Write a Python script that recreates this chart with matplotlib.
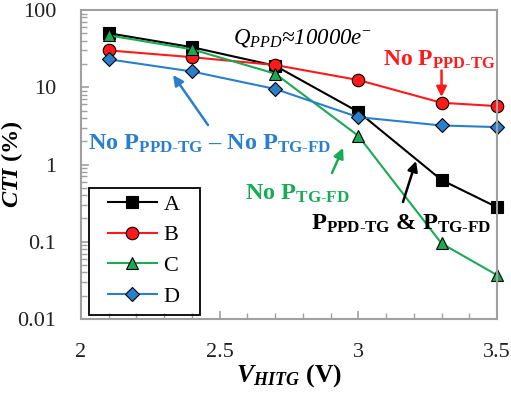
import matplotlib
matplotlib.use('Agg')
import matplotlib.pyplot as plt
from matplotlib.patches import Rectangle
from matplotlib.ticker import FixedLocator, LogLocator, NullFormatter, MultipleLocator

plt.rcParams['font.family'] = ['Liberation Serif', 'DejaVu Serif']
plt.rcParams['mathtext.fontset'] = 'custom'
plt.rcParams['mathtext.rm'] = 'Liberation Serif'
plt.rcParams['mathtext.it'] = 'Liberation Serif:italic'
plt.rcParams['mathtext.bf'] = 'Liberation Serif:bold'
plt.rcParams['mathtext.bfit'] = 'Liberation Serif:italic:bold'

v_hitg = [2.1, 2.4, 2.7, 3.0, 3.3, 3.5]
cti_a = [50, 33, 19, 4.8, 0.63, 0.28]
cti_b = [30, 24.5, 19.4, 12.4, 6.3, 5.7]
cti_c = [47, 31, 15, 2.35, 0.095, 0.037]
cti_d = [23, 16, 9.5, 4.1, 3.2, 3.05]
series_names = ['A', 'B', 'C', 'D']
x_ticks = [2, 2.5, 3, 3.5]
y_ticks = [0.01, 0.1, 1, 10, 100]
y_tick_labels = ['0.01', '0.1', '1', '10', '100']

fig = plt.figure(figsize=(5.11, 3.95), dpi=100)
ax = fig.add_axes([81 / 511, 1 - 319 / 395, 416 / 511, 309 / 395])

styles = [('black', 's'), ('#ff1a1a', 'o'), ('#1aaa55', '^'), ('#2a7fcc', 'D')]
for vals, name, (col, mk) in zip([cti_a, cti_b, cti_c, cti_d], series_names, styles):
    ms = 9 if mk != 'D' else 7
    ax.plot(v_hitg, vals, color=col, marker=mk, markersize=ms, markerfacecolor=col,
            markeredgecolor='black', markeredgewidth=0.8, linewidth=1.5, label=name, clip_on=False)

ax.set_yscale('log')
ax.set_xlim(2, 3.5)
ax.set_ylim(0.01, 100)
ax.xaxis.set_major_locator(FixedLocator(x_ticks))
ax.xaxis.set_minor_locator(MultipleLocator(0.1))
ax.set_xticklabels(['2', '2.5', '3', '3.5'])
ax.yaxis.set_major_locator(FixedLocator(y_ticks))
ax.set_yticklabels(y_tick_labels)
ax.yaxis.set_minor_locator(LogLocator(base=10, subs=range(2, 10)))
ax.yaxis.set_minor_formatter(NullFormatter())

for s in ax.spines.values():
    s.set_color('#a0a0a0')
    s.set_linewidth(1.5)
ax.tick_params(which='both', direction='in', color='#a0a0a0', labelsize=16, labelcolor='#222222')
ax.tick_params(which='major', length=6, width=1.2)
ax.tick_params(which='minor', length=4, width=1.0)
ax.tick_params(axis='x', pad=17)
ax.tick_params(axis='y', pad=18)

ax.set_xlabel(r'$\mathbfit{V}_{\mathbfit{HITG}}$ (V)', fontsize=18.5, fontweight='bold')
ax.xaxis.set_label_coords(0.5, -0.14)
ax.set_ylabel(r'$\mathbfit{CTI}$ (%)', fontsize=17.5, fontweight='bold')
ax.yaxis.set_label_coords(-0.135, 0.5)

# legend frame drawn separately so the left padding can be wider than the vertical one
ax.add_patch(Rectangle((0.019, 0.013), 0.267, 0.411, transform=ax.transAxes, fill=False,
                       edgecolor='black', linewidth=1.3, zorder=5))
leg = ax.legend(loc='center left', bbox_to_anchor=(0.065, 0.222), fontsize=16, frameon=False,
                handlelength=2.2, labelspacing=0.45, borderpad=0, borderaxespad=0,
                handletextpad=0.3)

ax.text(2.548, 44, r'$Q_{PPD}$≈10000$e^{-}$', fontsize=16.5, style='italic', ha='left', va='center')
ax.text(3.089, 22.5, r'No P$_{\mathbf{PPD\text{-}TG}}$', fontsize=17, color='#ff1a1a',
        fontweight='bold', ha='left', va='center')
ax.annotate('', xy=(3.3, 7.5), xytext=(3.3, 16.5),
            arrowprops=dict(arrowstyle='-|>', color='#ff1a1a', lw=1.8, mutation_scale=15,
                            shrinkA=0, shrinkB=0))
ax.text(2.025, 1.85, r'No P$_{\mathbf{PPD\text{-}TG}}$ – No P$_{\mathbf{TG\text{-}FD}}$', fontsize=17.5,
        color='#2a7fcc', fontweight='bold', ha='left', va='center')
ax.annotate('', xy=(2.332, 14.4), xytext=(2.458, 3.24),
            arrowprops=dict(arrowstyle='-|>', color='#2a7fcc', lw=1.8, mutation_scale=15,
                            shrinkA=0, shrinkB=0))
ax.text(2.59, 0.42, r'No P$_{\mathbf{TG\text{-}FD}}$', fontsize=17.5, color='#1aaa55',
        fontweight='bold', ha='left', va='center')
ax.annotate('', xy=(2.945, 1.64), xytext=(2.905, 0.776),
            arrowprops=dict(arrowstyle='-|>', color='#1aaa55', lw=1.8, mutation_scale=15,
                            shrinkA=0, shrinkB=0))
ax.text(2.83, 0.172, r'P$_{\mathbf{PPD\text{-}TG}}$ & P$_{\mathbf{TG\text{-}FD}}$', fontsize=17.5,
        color='black', fontweight='bold', ha='left', va='center')
ax.annotate('', xy=(3.208, 1.11), xytext=(3.161, 0.327),
            arrowprops=dict(arrowstyle='-|>', color='black', lw=1.8, mutation_scale=15,
                            shrinkA=0, shrinkB=0))

fig.savefig('out.png', dpi=100)
